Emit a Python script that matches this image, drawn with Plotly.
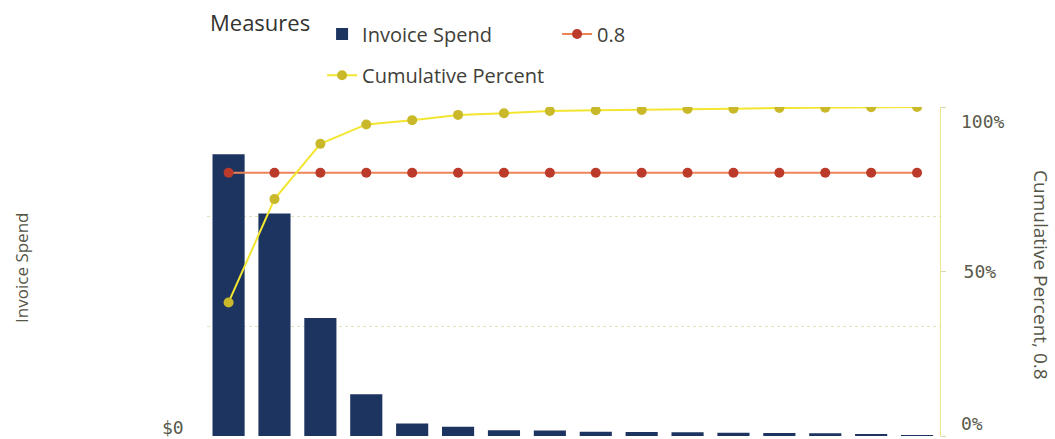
import plotly.graph_objects as go

# Pareto data: spend per supplier (sorted descending) and its running share
suppliers = [f"Supplier {i}" for i in range(1, 17)]
invoice_spend = [2570000, 2030000, 1075000, 380000, 114000, 84000, 53000, 50000,
                 38000, 36000, 34000, 30000, 28000, 24000, 15000, 8000]
cumulative_percent = [0.406, 0.72, 0.888, 0.947, 0.960, 0.976, 0.981, 0.988,
                      0.990, 0.991, 0.994, 0.995, 0.997, 0.998, 0.999, 1.0]
threshold = 0.8
threshold_line = [threshold] * len(suppliers)

spend_ticks = [0, 1000000, 2000000, 3000000]
pct_ticks = [0, 0.5, 1.0]
pct_ticktext = ["", "50%", ""]

TEXT = "#404038"
TICK = "#5a5a4c"
SANS = "Open Sans, Noto Sans, sans-serif"
MONO = "DejaVu Sans Mono, monospace"

fig = go.Figure()

fig.add_trace(go.Bar(
    x=suppliers, y=invoice_spend, name="Invoice Spend",
    marker=dict(color="#1d3461", line=dict(width=0)),
    legend="legend", yaxis="y",
))
fig.add_trace(go.Scatter(
    x=suppliers, y=threshold_line, name="0.8", mode="lines+markers",
    line=dict(color="#ee8358", width=2),
    marker=dict(color="#bb3a2a", size=10),
    legend="legend", yaxis="y2",
))
fig.add_trace(go.Scatter(
    x=suppliers, y=cumulative_percent, name="Cumulative Percent",
    mode="lines+markers",
    line=dict(color="#f3e630", width=2),
    marker=dict(color="#c9b92a", size=10),
    legend="legend2", yaxis="y2",
))

fig.update_layout(
    width=1055, height=439,
    margin=dict(l=207, r=115, t=107, b=3, autoexpand=False),
    paper_bgcolor="white", plot_bgcolor="white",
    font=dict(family=SANS, color=TEXT),
    bargap=0.3,
    xaxis=dict(range=[-0.47, 15.5], showticklabels=False, showgrid=False,
               zeroline=False, showline=False, ticks=""),
    yaxis=dict(range=[0, 3000000], tickvals=spend_ticks, showticklabels=False,
               showgrid=True, gridcolor="#e4e2bc", griddash="dot", gridwidth=1,
               zeroline=False, showline=False, ticks=""),
    yaxis2=dict(range=[0, 1.0], overlaying="y", side="right",
                tickvals=pct_ticks, ticktext=pct_ticktext,
                showgrid=False, zeroline=False,
                showline=True, linecolor="#efe68a", linewidth=1,
                ticks="outside", ticklen=5, tickcolor="#d8d6b0",
                ticklabelstandoff=14,
                tickfont=dict(family=MONO, size=18, color=TICK)),
    legend=dict(
        orientation="h", x=0.157, xanchor="left", y=1.281, yanchor="top",
        font=dict(family=SANS, size=20, color=TEXT),
        itemwidth=30, entrywidth=190, bgcolor="rgba(0,0,0,0)",
    ),
    legend2=dict(
        orientation="h", x=0.157, xanchor="left", y=1.156, yanchor="top",
        font=dict(family=SANS, size=20, color=TEXT),
        itemwidth=30, bgcolor="rgba(0,0,0,0)",
    ),
    showlegend=True,
)

# Legend heading
fig.add_annotation(text="Measures", xref="paper", yref="paper",
                   x=0.002, y=1.258, xanchor="left", yanchor="middle",
                   showarrow=False,
                   font=dict(family=SANS, size=22, color="#333330"))

# Axis titles
fig.add_annotation(text="Invoice Spend", xref="paper", yref="paper",
                   x=-0.2528, y=0.51, xanchor="center", yanchor="middle",
                   textangle=-90, showarrow=False,
                   font=dict(family=SANS, size=17, color="#555548"))
fig.add_annotation(text="Cumulative Percent, 0.8", xref="paper", yref="paper",
                   x=1.1387, y=0.49, xanchor="center", yanchor="middle",
                   textangle=90, showarrow=False,
                   font=dict(family=SANS, size=19, color="#555548"))

# End labels of both value axes, set just inside the plot edges
fig.add_annotation(text="$0", xref="paper", yref="y", x=0.0, y=0,
                   xanchor="right", xshift=-21, yshift=9, showarrow=False,
                   font=dict(family=MONO, size=18, color=TICK))
fig.add_annotation(text="100%", xref="paper", yref="y2", x=1.0, y=1.0,
                   xanchor="left", xshift=19, yshift=-14, showarrow=False,
                   font=dict(family=MONO, size=18, color=TICK))
fig.add_annotation(text="0%", xref="paper", yref="y2", x=1.0, y=0.0,
                   xanchor="left", xshift=19, yshift=13, showarrow=False,
                   font=dict(family=MONO, size=18, color=TICK))

fig.write_html("out.html")
